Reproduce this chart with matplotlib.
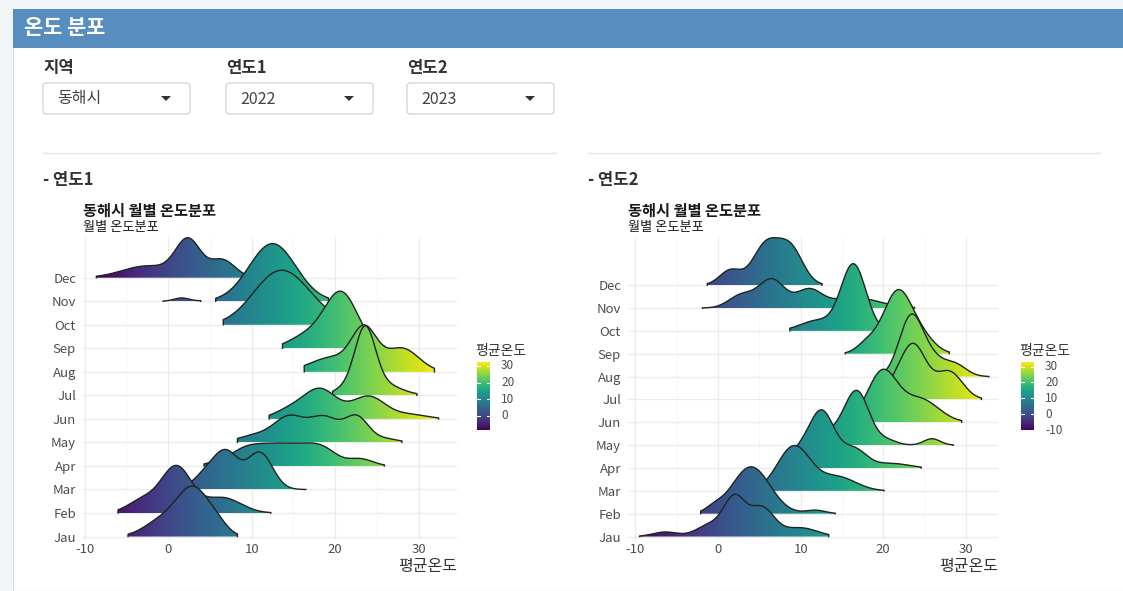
import numpy as np
import matplotlib
matplotlib.use('Agg')
import matplotlib.pyplot as plt
from matplotlib.patches import Rectangle, FancyBboxPatch, PathPatch, Polygon
from matplotlib.path import Path
from matplotlib.colors import Normalize

plt.rcParams['font.family'] = ['Noto Sans CJK KR', 'DejaVu Sans']

W, H = 1123, 591

# ---------------- data ----------------
months = ['Jau', 'Feb', 'Mar', 'Apr', 'May', 'Jun', 'Jul', 'Aug', 'Sep', 'Oct', 'Nov', 'Dec']
region = '동해시'
year1 = '2022'
year2 = '2023'
x_ticks = [-10, 0, 10, 20, 30]
legend_ticks_1 = [0, 10, 20, 30]
legend_ticks_2 = [-10, 0, 10, 20, 30]

# ridge shape: (mode °C, spread °C, height in row units)
ridges_2022 = [
    [(3.0, 2.0, 2.05), (-1.0, 2.0, 0.6), (6.0, 1.2, 0.3)],
    [(1.0, 1.8, 1.95), (-3.0, 1.8, 0.55), (6.5, 2.2, 0.65)],
    [(7.0, 1.5, 1.5), (11.0, 1.5, 1.55), (4.5, 1.5, 0.6)],
    [(6.0, 1.5, 0.15), (9.0, 1.6, 0.6), (11.5, 1.6, 0.6), (14.0, 1.6, 0.62),
     (16.5, 1.6, 0.58), (18.8, 1.6, 0.6), (23.0, 1.5, 0.3)],
    [(10.5, 2.0, 0.3), (14.5, 1.8, 1.05), (18.7, 1.8, 1.05), (22.6, 1.4, 1.05), (26.0, 1.5, 0.15)],
    [(18.2, 2.0, 1.25), (24.0, 2.0, 0.95), (14.5, 1.8, 0.35), (29.0, 2.0, 0.18)],
    [(23.6, 1.2, 2.5), (25.5, 2.2, 0.5), (21.5, 1.5, 0.3)],
    [(23.5, 1.5, 1.75), (19.5, 2.5, 0.6), (28.0, 2.0, 1.0)],
    [(20.7, 2.0, 2.37), (16.5, 2.0, 0.5)],
    [(12.8, 3.0, 1.8), (16.0, 3.0, 0.8)],
    [(1.6, 0.9, 0.14), (12.5, 2.8, 2.45)],
    [(-2.5, 3.0, 0.5), (2.4, 1.5, 1.55), (6.5, 1.5, 0.75)],
]
spans_2022 = [
    [(-4.8, 8.3)], [(-6.0, 12.3)], [(1.5, 16.5)], [(4.3, 25.9)], [(8.3, 28.0)],
    [(12.1, 32.4)], [(19.7, 29.8)], [(16.3, 31.9)], [(13.7, 26.0)], [(6.6, 22.0)],
    [(-0.6, 3.9), (5.7, 19.2)], [(-8.6, 9.5)],
]
fill_range_2022 = (-8.6, 32.4)

ridges_2023 = [
    [(2.0, 1.3, 1.65), (5.3, 1.5, 1.25), (-6.4, 1.5, 0.2), (-1.0, 1.6, 0.5), (10.0, 2.0, 0.38)],
    [(4.0, 2.3, 2.05), (-0.5, 1.0, 0.2), (11.8, 1.2, 0.15)],
    [(9.2, 2.0, 1.95), (14.5, 2.2, 0.6)],
    [(12.5, 1.6, 2.5), (16.5, 1.5, 0.8), (21.0, 2.0, 0.2), (9.5, 1.2, 0.5)],
    [(16.8, 1.5, 2.35), (13.5, 1.5, 0.5), (20.5, 1.2, 0.2), (25.9, 1.0, 0.28)],
    [(19.9, 1.8, 2.2), (24.5, 2.2, 1.0)],
    [(23.6, 1.6, 2.4), (28.0, 1.6, 1.2), (21.0, 1.2, 0.3)],
    [(23.4, 1.45, 2.65), (26.0, 1.3, 0.6), (28.6, 1.4, 0.55)],
    [(21.8, 1.8, 2.75), (18.0, 1.2, 0.4), (25.0, 1.5, 0.5)],
    [(16.4, 1.5, 2.9), (12.0, 2.0, 0.45)],
    [(6.5, 1.6, 1.25), (11.0, 1.5, 0.75), (2.8, 1.5, 0.55), (16.5, 3.0, 0.45)],
    [(5.8, 1.6, 1.75), (8.8, 1.5, 1.55), (1.5, 1.3, 0.65)],
]
spans_2023 = [
    [(-9.5, 13.4)], [(-2.1, 14.2)], [(5.5, 20.1)], [(8.5, 24.6)], [(12.0, 28.5)],
    [(15.5, 29.5)], [(19.5, 31.9)], [(19.5, 32.8)], [(15.4, 28.0)], [(8.7, 21.0)],
    [(-1.9, 23.8)], [(-1.3, 12.6)],
]
fill_range_2023 = (-10.0, 32.9)

# ---------------- figure ----------------
fig = plt.figure(figsize=(W / 100, H / 100), dpi=100)
fig.patch.set_facecolor('#f3f6f9')

bg = fig.add_axes([0, 0, 1, 1])
bg.set_xlim(0, W)
bg.set_ylim(H, 0)
bg.axis('off')

bg.add_patch(Rectangle((13, 9), W - 13, H - 9, facecolor='white', edgecolor='#d6dee7', lw=0.8))
bg.add_patch(Rectangle((13, 9), W - 13, 39, facecolor='#588dbf', edgecolor='none'))
bg.text(24, 28, '온도 분포', color='white', fontsize=15, fontweight='bold', va='center')

for lx, label, val in [(43, '지역', region), (226, '연도1', year1), (407, '연도2', year2)]:
    bg.text(lx, 68, label, fontsize=12, fontweight='bold', va='center', color='#333333')
    bg.add_patch(FancyBboxPatch((lx, 83), 147, 31, boxstyle='round,pad=0,rounding_size=3',
                                facecolor='white', edgecolor='#cccccc', lw=0.8))
    bg.text(lx + 14, 99, val, fontsize=11.5, va='center', color='#444444')
    tx = lx + 123
    bg.add_patch(Polygon([[tx - 5, 96], [tx + 5, 96], [tx, 101]], closed=True,
                         facecolor='#333333', edgecolor='none'))

bg.plot([43, 556], [153, 153], color='#e6e6e6', lw=1)
bg.plot([588, 1100], [153, 153], color='#e6e6e6', lw=1)
bg.text(43, 180, '- 연도1', fontsize=12, fontweight='bold', va='center', color='#333333')
bg.text(588, 180, '- 연도2', fontsize=12, fontweight='bold', va='center', color='#333333')


def px_axes(x0, y0, x1, y1):
    return fig.add_axes([x0 / W, 1 - y1 / H, (x1 - x0) / W, (y1 - y0) / H])


def ridge_height(comps, x):
    h = np.zeros_like(x)
    for c, s, a in comps:
        h += a * np.exp(-0.5 * ((x - c) / s) ** 2)
    return h


def draw_panel(box, xlim, ridges, spans, frange, cbar_x, ticks_leg):
    x0, y0, x1, y1 = box
    ax = px_axes(x0, y0, x1, y1)
    ax.set_facecolor('none')
    for s in ax.spines.values():
        s.set_visible(False)
    norm = Normalize(*frange)

    curves = []
    top = 0
    for i, (comps, segs) in enumerate(zip(ridges, spans)):
        segl = []
        for lo, hi in segs:
            xx = np.linspace(lo, hi, 300)
            hh = ridge_height(comps, xx)
            segl.append((xx, hh))
            top = max(top, i + hh.max())
        curves.append(segl)
    ytop = top + 0.03
    ylo = -0.0115 * ytop

    # grid
    for t in x_ticks:
        ax.axvline(t, color='#ebebeb', lw=0.9, zorder=0)
    for t in np.array(x_ticks[:-1]) + 5:
        ax.axvline(t, color='#f3f3f3', lw=0.5, zorder=0)
    if xlim[1] > x_ticks[-1] + 5:
        ax.axvline(x_ticks[-1] + 5, color='#f3f3f3', lw=0.5, zorder=0)
    for i in range(len(months)):
        ax.axhline(i, color='#ebebeb', lw=0.9, zorder=0)

    grad = np.linspace(xlim[0], xlim[1], 800)[None, :]
    n = len(months)
    for i, segl in enumerate(curves):
        z = 2 + (n - i) * 2
        verts, codes = [], []
        hmax = 0
        for xx, hh in segl:
            pts = [(xx[0], i)] + list(zip(xx, i + hh)) + [(xx[-1], i), (xx[0], i)]
            verts += pts
            codes += [Path.MOVETO] + [Path.LINETO] * (len(pts) - 2) + [Path.CLOSEPOLY]
            hmax = max(hmax, hh.max())
        path = Path(verts, codes)
        patch = PathPatch(path, transform=ax.transData, facecolor='none', edgecolor='none')
        ax.add_patch(patch)
        im = ax.imshow(grad, extent=[xlim[0], xlim[1], i, i + hmax + 0.05], origin='lower',
                       aspect='auto', cmap='viridis', norm=norm, zorder=z,
                       interpolation='bilinear')
        im.set_clip_path(patch)
        for xx, hh in segl:
            lx = np.concatenate([[xx[0]], xx, [xx[-1]]])
            ly = np.concatenate([[i], i + hh, [i]])
            ax.plot(lx, ly, color='#1e2420', lw=1.0, zorder=z + 0.5, solid_joinstyle='round')

    ax.set_xlim(*xlim)
    ax.set_ylim(ylo, ytop)
    ax.set_xticks(x_ticks)
    ax.set_xticklabels([str(t) for t in x_ticks])
    ax.set_yticks(range(n))
    ax.set_yticklabels(months)
    ax.tick_params(axis='both', length=0, labelsize=9.5, labelcolor='#4d4d4d')
    ax.tick_params(axis='x', pad=2)
    ax.tick_params(axis='y', pad=5)

    bg.text(x0, 211, f'{region} 월별 온도분포', fontsize=11, fontweight='bold',
            va='center', color='#1a1a1a')
    bg.text(x0, 227, '월별 온도분포', fontsize=9.5, va='center', color='#1a1a1a')
    bg.text(x1, 566, '평균온도', fontsize=11.5, ha='right', va='center', color='#333333')

    # colour bar legend
    cy0, cy1 = 362, 430
    cax = px_axes(cbar_x, cy0, cbar_x + 13, cy1)
    cax.imshow(np.linspace(frange[0], frange[1], 300)[:, None], extent=[0, 1, frange[0], frange[1]],
               origin='lower', aspect='auto', cmap='viridis', norm=norm)
    for t in ticks_leg:
        cax.plot([0, 0.2], [t, t], color='white', lw=0.8)
        cax.plot([0.8, 1], [t, t], color='white', lw=0.8)
        ypx = cy1 - (t - frange[0]) / (frange[1] - frange[0]) * (cy1 - cy0)
        bg.text(cbar_x + 24, ypx, str(t), fontsize=8.5, va='center', color='#4d4d4d')
    cax.set_xlim(0, 1)
    cax.set_ylim(*frange)
    cax.axis('off')
    bg.text(cbar_x - 2, 351, '평균온도', fontsize=10, va='center', color='#333333')
    return ax


draw_panel((83, 237, 457, 540), (-10.2, 34.6), ridges_2022, spans_2022, fill_range_2022,
           477, legend_ticks_1)
draw_panel((628, 237, 998, 540), (-10.9, 33.9), ridges_2023, spans_2023, fill_range_2023,
           1021, legend_ticks_2)

fig.savefig('out.png', dpi=100, facecolor=fig.get_facecolor())
